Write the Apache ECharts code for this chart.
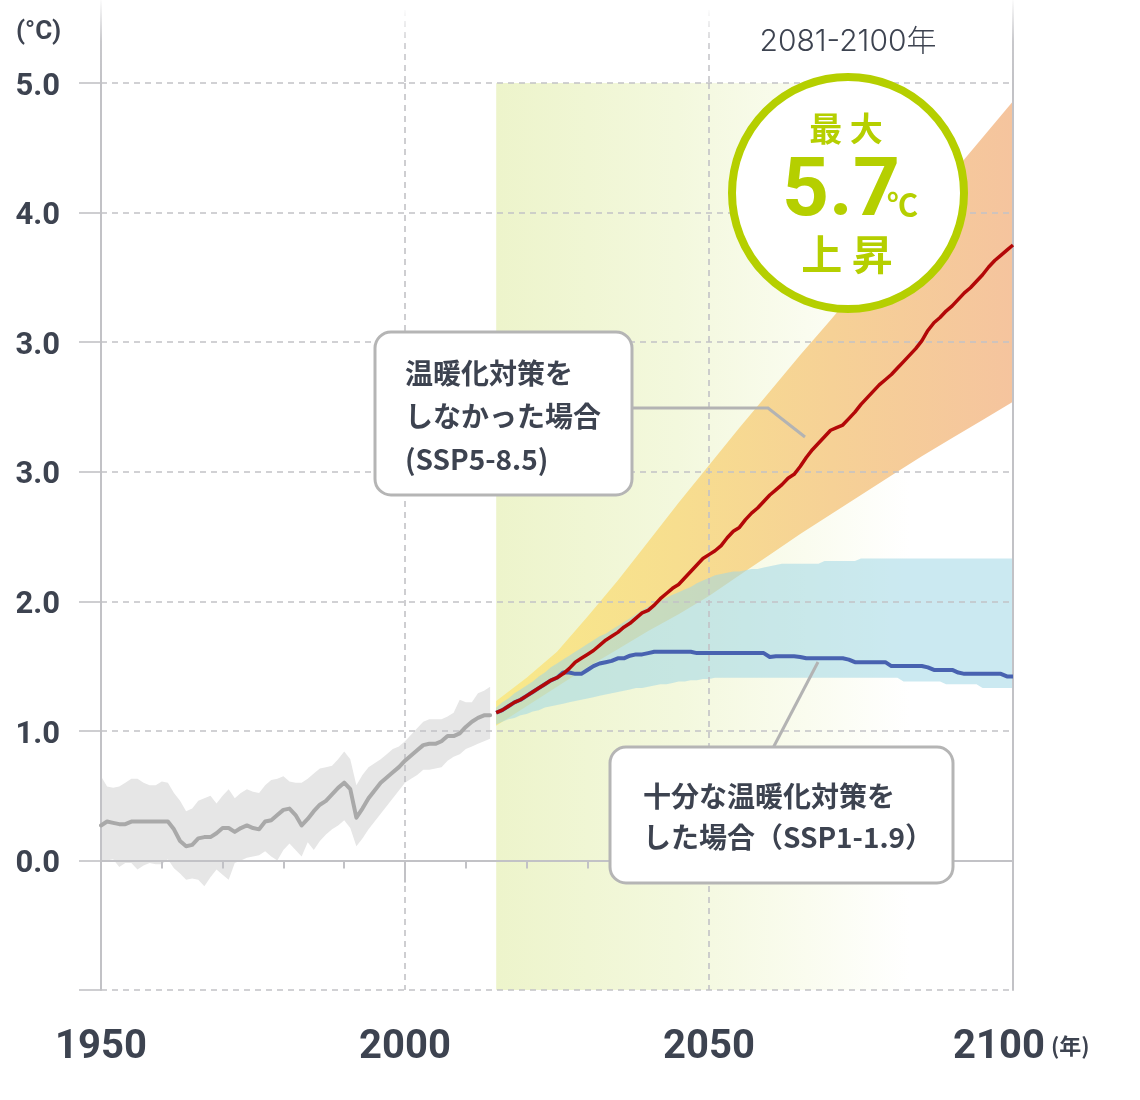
<!DOCTYPE html>
<html>
<head>
<meta charset="utf-8">
<script src="https://cdn.jsdelivr.net/npm/echarts@6/dist/echarts.min.js"></script>
<style>html,body{margin:0;padding:0;background:#fff}#c{width:1140px;height:1100px}</style>
</head>
<body>
<div id="c"></div>
<script>
// ---------- data ----------
const histStartYear = 1950;
const histMean = [
  0.27,0.30,0.29,0.28,0.28,0.30,0.30,0.30,0.30,0.30,
  0.30,0.30,0.24,0.15,0.11,0.12,0.17,0.18,0.18,0.21,
  0.25,0.25,0.22,0.25,0.27,0.25,0.24,0.30,0.31,0.35,
  0.39,0.40,0.35,0.27,0.32,0.38,0.43,0.46,0.51,0.56,
  0.60,0.55,0.33,0.40,0.48,0.54,0.60,0.64,0.68,0.72,
  0.77,0.81,0.85,0.89,0.90,0.90,0.92,0.96,0.96,0.98,
  1.03,1.07,1.10,1.12,1.12];
const histUpper = [
  0.65,0.57,0.56,0.57,0.60,0.63,0.63,0.60,0.58,0.58,
  0.61,0.60,0.52,0.46,0.38,0.40,0.46,0.48,0.50,0.44,
  0.50,0.55,0.48,0.52,0.55,0.53,0.52,0.58,0.62,0.63,
  0.65,0.61,0.60,0.60,0.63,0.67,0.71,0.72,0.73,0.78,
  0.84,0.78,0.58,0.66,0.72,0.75,0.78,0.82,0.86,0.88,
  0.92,0.97,1.02,1.07,1.09,1.09,1.09,1.11,1.14,1.24,
  1.22,1.22,1.29,1.31,1.34];
const histLower = [
  -0.01,0.00,0.01,-0.05,-0.02,-0.02,-0.07,-0.04,-0.02,-0.03,
  -0.03,0.01,-0.06,-0.10,-0.15,-0.14,-0.15,-0.20,-0.13,-0.07,
  -0.11,-0.15,-0.02,0.00,0.02,0.03,0.04,0.07,0.03,0.00,
  0.08,0.13,0.08,0.03,0.14,0.08,0.15,0.20,0.24,0.27,
  0.31,0.25,0.11,0.17,0.24,0.30,0.36,0.42,0.48,0.54,
  0.60,0.63,0.66,0.70,0.70,0.71,0.72,0.77,0.80,0.82,
  0.86,0.88,0.90,0.92,0.94];

const projStartYear = 2015;
const ssp585Mean = [
  1.14,1.16,1.19,1.22,1.24,1.27,1.30,1.33,1.36,1.39,
  1.41,1.44,1.48,1.53,1.56,1.59,1.62,1.66,1.70,1.73,
  1.76,1.80,1.83,1.87,1.91,1.93,1.97,2.02,2.06,2.10,
  2.13,2.18,2.23,2.28,2.33,2.36,2.39,2.43,2.49,2.54,
  2.57,2.63,2.68,2.72,2.77,2.82,2.86,2.90,2.95,2.98,
  3.04,3.11,3.17,3.22,3.27,3.32,3.34,3.36,3.41,3.46,
  3.52,3.57,3.62,3.67,3.71,3.75,3.80,3.85,3.90,3.95,
  4.01,4.09,4.15,4.19,4.24,4.28,4.33,4.38,4.42,4.47,
  4.52,4.58,4.63,4.67,4.71,4.75];
const ssp119Mean = [
  1.14,1.16,1.19,1.22,1.24,1.27,1.30,1.33,1.36,1.39,
  1.41,1.45,1.45,1.44,1.44,1.47,1.50,1.52,1.53,1.54,
  1.56,1.56,1.58,1.59,1.59,1.60,1.61,1.61,1.61,1.61,
  1.61,1.61,1.61,1.60,1.60,1.60,1.60,1.60,1.60,1.60,
  1.60,1.60,1.60,1.60,1.60,1.57,1.575,1.575,1.575,1.575,
  1.57,1.56,1.56,1.56,1.56,1.56,1.56,1.56,1.55,1.53,
  1.53,1.53,1.53,1.53,1.53,1.50,1.50,1.50,1.50,1.50,
  1.50,1.49,1.47,1.47,1.47,1.47,1.45,1.44,1.44,1.44,
  1.44,1.44,1.44,1.44,1.42,1.42];
const ssp119Upper = [
  1.18,1.22,1.25,1.29,1.32,1.35,1.38,1.42,1.45,1.49,
  1.52,1.55,1.58,1.61,1.64,1.67,1.70,1.73,1.75,1.78,
  1.81,1.84,1.87,1.90,1.93,1.96,1.98,2.00,2.03,2.05,
  2.07,2.09,2.11,2.14,2.16,2.18,2.20,2.21,2.22,2.23,
  2.23,2.24,2.25,2.25,2.26,2.27,2.28,2.29,2.29,2.29,
  2.29,2.29,2.29,2.29,2.31,2.31,2.31,2.31,2.31,2.31,
  2.33,2.33,2.33,2.33,2.33,2.33,2.33,2.33,2.33,2.33,
  2.33,2.33,2.33,2.33,2.33,2.33,2.33,2.33,2.33,2.33,
  2.33,2.33,2.33,2.33,2.33,2.33];
const ssp119Lower = [
  1.05,1.07,1.09,1.10,1.12,1.13,1.15,1.16,1.18,1.19,
  1.20,1.21,1.22,1.23,1.24,1.25,1.26,1.27,1.28,1.29,
  1.30,1.31,1.32,1.33,1.33,1.34,1.35,1.36,1.36,1.37,
  1.38,1.38,1.39,1.39,1.40,1.40,1.41,1.41,1.41,1.41,
  1.41,1.41,1.41,1.41,1.41,1.41,1.41,1.41,1.41,1.41,
  1.41,1.41,1.41,1.41,1.41,1.41,1.41,1.41,1.41,1.41,
  1.41,1.41,1.41,1.41,1.41,1.41,1.41,1.38,1.38,1.38,
  1.38,1.38,1.38,1.38,1.36,1.36,1.36,1.36,1.36,1.36,
  1.33,1.33,1.33,1.33,1.33,1.33];

const ssp585BandYears = [2015,2020,2025,2030,2035,2040,2045,2050,2055,2060,2065,2070,2075,2080,2085,2090,2095,2100];
const ssp585Upper = [1.23,1.41,1.61,1.88,2.16,2.46,2.76,3.05,3.34,3.62,3.90,4.17,4.45,4.73,5.01,5.30,5.58,5.86];
const ssp585Lower = [1.04,1.19,1.34,1.49,1.63,1.77,1.90,2.04,2.20,2.36,2.52,2.67,2.82,2.97,3.12,3.26,3.40,3.54];

const projectionPeriod = [2015, 2100];
const xTickYears = [1950, 2000, 2050, 2100];
const yTickValues = [-1, 0, 1, 2, 3, 4, 5, 6];
const yTickLabels = ['', '0.0', '1.0', '2.0', '3.0', '3.0', '4.0', '5.0'];

// ---------- helpers ----------
const yearsFrom = (start, n) => Array.from({length: n}, (_, i) => start + i);
const byYear = (start, vals) => vals.map((v, i) => [start + i, v]);
const bandRows = (years, lo, up) => years.map((y, i) => [y, lo[i], up[i]]);

const TEXT = '#3d4350';
const AXIS = '#c2c2c6';
const GREEN = '#b5cf00';

// custom series drawing a band polygon through the axis scales
function bandSeries(name, years, lo, up, fill) {
  return {
    name, type: 'custom', z: 2, silent: true, clip: true,
    data: bandRows(years, lo, up),
    encode: {x: 0, y: [1, 2]},
    renderItem: (params, api) => {
      if (params.dataIndex !== 0) return null;
      const pts = [];
      for (let i = 0; i < years.length; i++) pts.push(api.coord([years[i], up[i]]));
      for (let i = years.length - 1; i >= 0; i--) pts.push(api.coord([years[i], lo[i]]));
      return {type: 'polygon', shape: {points: pts}, style: {fill: fill(), stroke: null}};
    }
  };
}

const chart = echarts.init(document.getElementById('c'), null, {renderer: 'canvas'});

const option = {
  animation: false,
  backgroundColor: '#ffffff',
  grid: {left: 101, right: 127, top: 83, bottom: 110, containLabel: false},
  xAxis: {
    type: 'value', min: xTickYears[0], max: xTickYears[xTickYears.length - 1], interval: 50, z: 3,
    axisLine: {show: true, lineStyle: {color: AXIS, width: 2}},
    axisTick: {show: true, length: 22, lineStyle: {color: AXIS, width: 2}},
    minorTick: {show: true, splitNumber: 5, length: 8, lineStyle: {color: AXIS, width: 2}},
    splitLine: {show: true, lineStyle: {color: AXIS, width: 1.6, type: [6, 5]}},
    axisLabel: {
      margin: 38, showMinLabel: true, showMaxLabel: true,
      formatter: v => (v === xTickYears[xTickYears.length - 1] ? '{s|' : '{n|') + v + '}',
      rich: {
        n: {fontSize: 40, fontWeight: 'bold', fontFamily: 'Roboto', color: TEXT},
        s: {fontSize: 40, fontWeight: 'bold', fontFamily: 'Roboto', color: TEXT, padding: [0, 28, 0, 0]}
      }
    }
  },
  yAxis: [{
    type: 'value', min: yTickValues[0], max: yTickValues[yTickValues.length - 1], interval: 1, z: 3,
    axisLine: {show: true, lineStyle: {color: AXIS, width: 2}},
    axisTick: {show: true, length: 22, lineStyle: {color: AXIS, width: 1.6}},
    splitLine: {show: true, lineStyle: {color: AXIS, width: 1.6, type: [6, 5]}},
    axisLabel: {show: false}
  }, {
    type: 'value', position: 'right', min: yTickValues[0], max: yTickValues[yTickValues.length - 1], z: 3,
    axisLine: {show: true, lineStyle: {color: AXIS, width: 2}},
    axisTick: {show: false}, axisLabel: {show: false}, splitLine: {show: false}
  }],
  series: [
    // background shading of the projection period
    {
      name: 'projection', type: 'line', data: [[projectionPeriod[0], yTickValues[0]], [projectionPeriod[1], yTickValues[0]]],
      symbol: 'none', lineStyle: {opacity: 0}, silent: true, z: 1,
      markArea: {
        silent: true,
        itemStyle: {
          color: new echarts.graphic.LinearGradient(0, 0, 1, 0, [
            {offset: 0, color: '#edf4cb'},
            {offset: 0.35, color: '#f3f8dd'},
            {offset: 0.6, color: '#fafcef'},
            {offset: 0.8, color: '#ffffff'},
            {offset: 1, color: '#ffffff'}
          ])
        },
        data: [[{xAxis: projectionPeriod[0], yAxis: yTickValues[0]}, {xAxis: projectionPeriod[1], yAxis: yTickValues[yTickValues.length - 1]}]]
      }
    },
    bandSeries('SSP5-8.5 range', ssp585BandYears, ssp585Lower, ssp585Upper, () => new echarts.graphic.LinearGradient(0, 0, 1, 0, [
      {offset: 0, color: '#f8e98a'},
      {offset: 0.35, color: '#f7de8f'},
      {offset: 0.65, color: '#f6d196'},
      {offset: 1, color: '#f5c49e'}
    ])),
    bandSeries('SSP1-1.9 range', yearsFrom(projStartYear, ssp119Lower.length), ssp119Lower, ssp119Upper, () => 'rgba(160,215,230,0.55)'),
    bandSeries('historical range', yearsFrom(histStartYear, histLower.length), histLower, histUpper, () => '#e6e6e6'),
    // lines
    {
      name: 'historical', type: 'line', data: byYear(histStartYear, histMean), symbol: 'none', z: 5, silent: true,
      lineStyle: {color: '#a9a9a9', width: 4, join: 'round', cap: 'round'}
    },
    {
      name: 'SSP1-1.9', type: 'line', data: byYear(projStartYear, ssp119Mean), symbol: 'none', z: 5, silent: true,
      lineStyle: {color: '#4862b0', width: 4, join: 'round'}
    },
    {
      name: 'SSP5-8.5', type: 'line', data: byYear(projStartYear, ssp585Mean), symbol: 'none', z: 6, silent: true,
      lineStyle: {color: '#b30808', width: 3.5, join: 'round'}
    }
  ]
};

chart.setOption(option);

// decorative extensions of the vertical grid lines above the plot, y tick labels and annotations
const xPx = v => chart.convertToPixel({xAxisIndex: 0}, v);
const yPx = v => chart.convertToPixel({yAxisIndex: 0}, v);
const topPx = yPx(yTickValues[yTickValues.length - 1]);
const fade = () => new echarts.graphic.LinearGradient(0, 0, 0, 1, [
  {offset: 0, color: 'rgba(194,194,198,0)'},
  {offset: 0.5, color: 'rgba(194,194,198,0.9)'},
  {offset: 1, color: AXIS}
]);
const ext = xTickYears.map((yr, i) => {
  const edge = (i === 0 || i === xTickYears.length - 1);
  return {
    type: 'line', silent: true, z: 4,
    shape: {x1: xPx(yr), y1: edge ? 0 : 10, x2: xPx(yr), y2: topPx},
    style: {stroke: fade(), lineWidth: edge ? 2 : 1.6, lineDash: edge ? null : [6, 5]}
  };
});
const yLabels = yTickValues.map((v, i) => ({
  type: 'text', silent: true, z: 100,
  style: {text: yTickLabels[i], x: xPx(xTickYears[0]) - 41, y: yPx(v) + 4, fill: TEXT,
          font: 'bold 31px Roboto', align: 'right', verticalAlign: 'middle'}
}));

const CJK = '"Noto Sans CJK JP", sans-serif';
const graphics = ext.concat(yLabels, [
  {type: 'text', z: 100, silent: true, style: {text: '(°C)', x: 16, y: 32, fill: TEXT, font: 'bold 26px Roboto', verticalAlign: 'middle'}},
  {type: 'text', z: 100, silent: true, style: {text: '(年)', x: 1051, y: 1046, fill: TEXT, font: 'bold 22px ' + CJK, verticalAlign: 'middle'}},
  {type: 'text', z: 100, silent: true, style: {text: '2081-2100年', x: 848, y: 42, fill: TEXT, fontSize: 30, fontWeight: 300, fontFamily: 'Inter, "Noto Sans CJK JP"', align: 'center', verticalAlign: 'middle'}},
  // circle badge
  {type: 'circle', z: 100, silent: true, shape: {cx: 848, cy: 193, r: 116}, style: {fill: '#ffffff', stroke: GREEN, lineWidth: 8}},
  {type: 'text', z: 101, silent: true, style: {text: '最 大', x: 846, y: 128, fill: GREEN, font: 'bold 33px ' + CJK, align: 'center', verticalAlign: 'middle'}},
  {type: 'text', z: 101, silent: true, style: {text: '5.7', x: 841, y: 194, fill: GREEN, font: 'bold 82px Roboto', align: 'center', verticalAlign: 'middle'}},
  {type: 'text', z: 101, silent: true, style: {text: '℃', x: 887, y: 204, fill: GREEN, font: 'bold 31px ' + CJK, verticalAlign: 'middle'}},
  {type: 'text', z: 101, silent: true, style: {text: '上 昇', x: 847, y: 254, fill: GREEN, font: 'bold 41px ' + CJK, align: 'center', verticalAlign: 'middle'}},
  // callout lines
  {type: 'polyline', z: 99, silent: true, shape: {points: [[632, 408], [768, 408], [805, 437]]}, style: {stroke: '#b3b3b3', lineWidth: 3, fill: null}},
  {type: 'polyline', z: 99, silent: true, shape: {points: [[818, 662], [773, 748]]}, style: {stroke: '#b3b3b3', lineWidth: 3, fill: null}},
  // boxes
  {type: 'rect', z: 100, silent: true, shape: {x: 375, y: 332, width: 257, height: 163, r: 16}, style: {fill: '#ffffff', stroke: '#b5b5b5', lineWidth: 3}},
  {type: 'text', z: 101, silent: true, style: {text: '温暖化対策を\nしなかった場合\n(SSP5-8.5)', x: 405, y: 352, fill: TEXT, font: 'bold 28px ' + CJK, lineHeight: 43, verticalAlign: 'top'}},
  {type: 'rect', z: 100, silent: true, shape: {x: 610, y: 747, width: 343, height: 136, r: 16}, style: {fill: '#ffffff', stroke: '#b5b5b5', lineWidth: 3}},
  {type: 'text', z: 101, silent: true, style: {text: '十分な温暖化対策を\nした場合（SSP1-1.9）', x: 643, y: 776, fill: TEXT, font: 'bold 28px ' + CJK, lineHeight: 41, verticalAlign: 'top'}}
]);

chart.setOption({graphic: graphics});
</script>
</body>
</html>
